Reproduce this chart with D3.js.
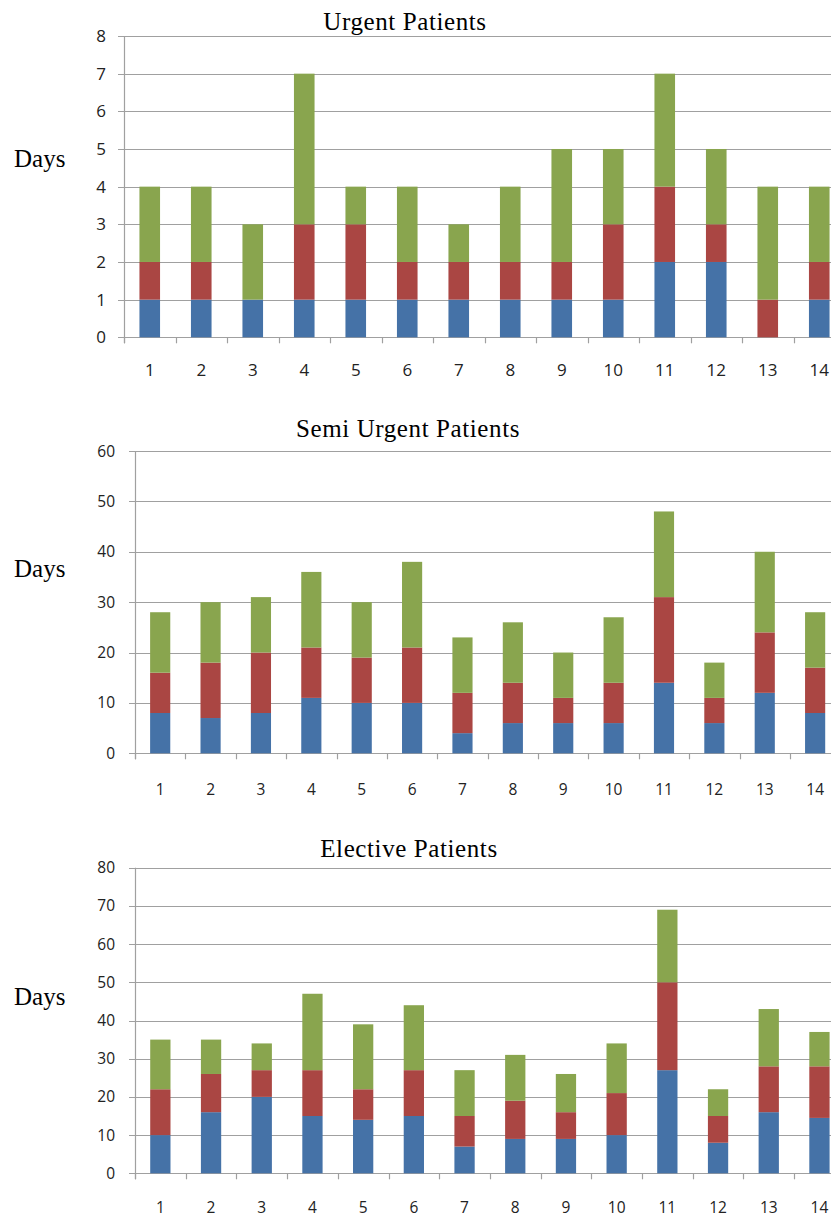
<!DOCTYPE html>
<html>
<head>
<meta charset="utf-8">
<script src="https://cdn.jsdelivr.net/npm/d3@7"></script>
<style>
  html, body { margin: 0; padding: 0; background: #fff; overflow: hidden; }
  svg { display: block; }
</style>
</head>
<body>
<svg id="chart" width="831" height="1217"></svg>
<script>
// ---- Data ----
const categories = ["1","2","3","4","5","6","7","8","9","10","11","12","13","14"];
const seriesNames = ["blue", "red", "green"];
const seriesColors = ["#4572A7", "#AA4643", "#89A54E"];

const urgentTitle = "Urgent Patients";
const urgentBlue  = [1, 1, 1, 1, 1, 1, 1, 1, 1, 1, 2, 2, 0, 1];
const urgentRed   = [1, 1, 0, 2, 2, 1, 1, 1, 1, 2, 2, 1, 1, 1];
const urgentGreen = [2, 2, 2, 4, 1, 2, 1, 2, 3, 2, 3, 2, 3, 2];
const urgentTicks = [0, 1, 2, 3, 4, 5, 6, 7, 8];

const semiTitle = "Semi Urgent Patients";
const semiBlue  = [8, 7, 8, 11, 10, 10, 4, 6, 6, 6, 14, 6, 12, 8];
const semiRed   = [8, 11, 12, 10, 9, 11, 8, 8, 5, 8, 17, 5, 12, 9];
const semiGreen = [12, 12, 11, 15, 11, 17, 11, 12, 9, 13, 17, 7, 16, 11];
const semiTicks = [0, 10, 20, 30, 40, 50, 60];

const electiveTitle = "Elective Patients";
const electiveBlue  = [10, 16, 20, 15, 14, 15, 7, 9, 9, 10, 27, 8, 16, 14.5];
const electiveRed   = [12, 10, 7, 12, 8, 12, 8, 10, 7, 11, 23, 7, 12, 13.5];
const electiveGreen = [13, 9, 7, 20, 17, 17, 12, 12, 10, 13, 19, 7, 15, 9];
const electiveTicks = [0, 10, 20, 30, 40, 50, 60, 70, 80];

const yAxisLabel = "Days";

// ---- Layout (positions, not data) ----
const panels = [
  { title: urgentTitle, blue: urgentBlue, red: urgentRed, green: urgentGreen, ticks: urgentTicks,
    left: 124, step: 51.5, top: 36, bottom: 337.3, font: 17,
    titleX: 405, titleY: 30, daysY: 167, xLabelY: 376, yLabelGap: 18 },
  { title: semiTitle, blue: semiBlue, red: semiRed, green: semiGreen, ticks: semiTicks,
    left: 135, step: 50.38, top: 451, bottom: 753.3, font: 15.5,
    titleX: 408, titleY: 437, daysY: 577, xLabelY: 795, yLabelGap: 20 },
  { title: electiveTitle, blue: electiveBlue, red: electiveRed, green: electiveGreen, ticks: electiveTicks,
    left: 135, step: 50.7, top: 867.7, bottom: 1173.3, font: 15.5,
    titleX: 409, titleY: 857, daysY: 1005, xLabelY: 1213, yLabelGap: 20 }
];

const svg = d3.select("#chart");
const gridColor = "#a0a0a0";

panels.forEach(p => {
  const g = svg.append("g");
  const right = p.left + p.step * categories.length;

  const x = d3.scaleBand()
    .domain(categories)
    .range([p.left, right])
    .paddingInner(0.6)
    .paddingOuter(0.3);

  const yMax = p.ticks[p.ticks.length - 1];
  const y = d3.scaleLinear().domain([0, yMax]).range([p.bottom, p.top]);

  // gridlines (with small ticks to the left of the axis)
  g.append("g")
    .selectAll("line")
    .data(p.ticks)
    .join("line")
    .attr("x1", p.left - 6)
    .attr("x2", right)
    .attr("y1", d => Math.round(y(d)) + 0.5)
    .attr("y2", d => Math.round(y(d)) + 0.5)
    .attr("stroke", gridColor)
    .attr("stroke-width", 1.2);

  // y tick labels
  g.append("g")
    .selectAll("text")
    .data(p.ticks)
    .join("text")
    .attr("x", p.left - p.yLabelGap)
    .attr("y", d => y(d))
    .attr("dy", "0.36em")
    .attr("text-anchor", "end")
    .attr("font-family", "'Open Sans', 'DejaVu Sans', sans-serif")
    .attr("font-size", p.font)
    .attr("fill", "#222")
    .text(d => d);

  // stacked bars
  const rows = categories.map((c, i) => ({ cat: c, blue: p.blue[i], red: p.red[i], green: p.green[i] }));
  const stacked = d3.stack().keys(seriesNames)(rows);

  g.append("g")
    .selectAll("g")
    .data(stacked)
    .join("g")
    .attr("fill", (d, i) => seriesColors[i])
    .selectAll("rect")
    .data(d => d)
    .join("rect")
    .attr("x", d => x(d.data.cat))
    .attr("width", x.bandwidth())
    .attr("y", d => y(d[1]))
    .attr("height", d => Math.max(0, y(d[0]) - y(d[1])));

  // vertical axis line
  g.append("line")
    .attr("x1", p.left + 0.5).attr("x2", p.left + 0.5)
    .attr("y1", y(yMax)).attr("y2", p.bottom + 6)
    .attr("stroke", gridColor).attr("stroke-width", 1.2);

  // x tick marks at band boundaries
  const boundaries = d3.range(categories.length + 1).map(i => p.left + i * p.step);
  g.append("g")
    .selectAll("line")
    .data(boundaries)
    .join("line")
    .attr("x1", d => Math.round(d) + 0.5)
    .attr("x2", d => Math.round(d) + 0.5)
    .attr("y1", p.bottom)
    .attr("y2", p.bottom + 6)
    .attr("stroke", gridColor)
    .attr("stroke-width", 1.2);

  const xAxis = d3.axisBottom(x).tickSize(0).tickPadding(0);
  const ax = g.append("g")
    .attr("transform", `translate(0,${p.xLabelY})`)
    .call(xAxis);
  ax.select(".domain").remove();
  ax.selectAll("text")
    .attr("y", 0)
    .attr("dy", 0)
    .attr("font-family", "'Open Sans', 'DejaVu Sans', sans-serif")
    .attr("font-size", p.font)
    .attr("fill", "#222");

  // title
  g.append("text")
    .attr("x", p.titleX)
    .attr("y", p.titleY)
    .attr("text-anchor", "middle")
    .attr("font-family", "'Liberation Serif', 'Times New Roman', serif")
    .attr("font-size", 25)
    .attr("letter-spacing", 0.6)
    .attr("fill", "#000")
    .text(p.title);

  // y axis label
  g.append("text")
    .attr("x", 14)
    .attr("y", p.daysY)
    .attr("font-family", "'Liberation Serif', 'Times New Roman', serif")
    .attr("font-size", 25)
    .attr("fill", "#000")
    .text(yAxisLabel);
});
</script>
</body>
</html>
